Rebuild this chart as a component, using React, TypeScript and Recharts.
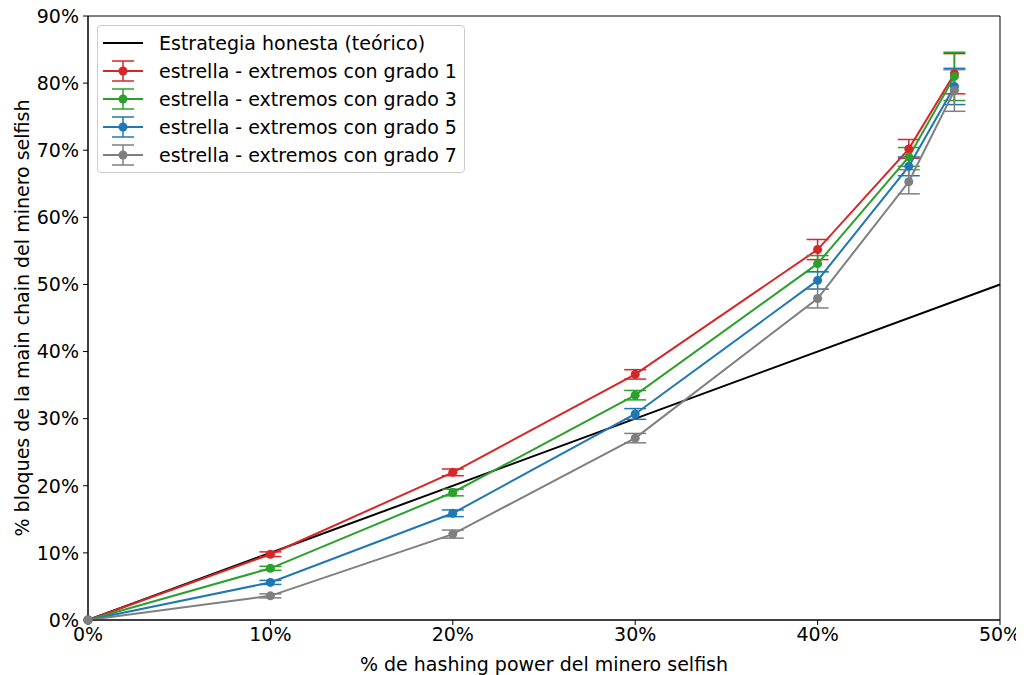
import React from 'react';
import { ComposedChart, Line, XAxis, YAxis, ErrorBar, Legend, ReferenceArea } from 'recharts';

const xValues = [0, 10, 20, 30, 40, 45, 47.5];
const grado1 = [0, 9.8, 22.0, 36.6, 55.2, 70.2, 81.4];
const grado1Err = [0, 0.35, 0.5, 0.7, 1.5, 1.4, 3.0];
const grado3 = [0, 7.7, 19.0, 33.5, 53.1, 69.0, 81.0];
const grado3Err = [0, 0.3, 0.5, 0.7, 1.2, 1.4, 3.6];
const grado5 = [0, 5.6, 15.9, 30.7, 50.6, 67.6, 79.5];
const grado5Err = [0, 0.3, 0.5, 0.8, 1.3, 1.4, 2.7];
const grado7 = [0, 3.6, 12.8, 27.1, 47.9, 65.3, 78.9];
const grado7Err = [0, 0.3, 0.6, 0.7, 1.4, 1.8, 3.1];
const honestX = [0, 50];
const honestY = [0, 50];
const xTicks = [0, 10, 20, 30, 40, 50];
const yTicks = [0, 10, 20, 30, 40, 50, 60, 70, 80, 90];

const seriesNames = [
  'Estrategia honesta (teórico)',
  'estrella - extremos con grado 1',
  'estrella - extremos con grado 3',
  'estrella - extremos con grado 5',
  'estrella - extremos con grado 7',
];
const colors = ['#000000', '#d62728', '#2ca02c', '#1f77b4', '#7f7f7f'];

const rows = xValues.map((x, i) => ({
  x,
  g1: grado1[i], g1e: grado1Err[i],
  g3: grado3[i], g3e: grado3Err[i],
  g5: grado5[i], g5e: grado5Err[i],
  g7: grado7[i], g7e: grado7Err[i],
}));
const honestData = honestX.map((x, i) => ({ x, honest: honestY[i] }));

const FONT = 'DejaVu Sans, sans-serif';
const FS = 19;

const renderLegend = () => (
  <div
    style={{
      display: 'inline-block',
      border: '1px solid #cccccc',
      borderRadius: 4,
      background: 'rgba(255,255,255,0.8)',
      padding: '3px 7px 3px 5px',
      fontFamily: FONT,
      fontSize: FS,
      color: '#000',
      boxSizing: 'border-box',
      textAlign: 'left',
    }}
  >
    {seriesNames.map((name, i) => (
      <div key={name} style={{ display: 'flex', alignItems: 'center', height: 28 }}>
        <svg width={40} height={24} style={{ marginRight: 16, flexShrink: 0 }}>
          <line x1={0} y1={12} x2={40} y2={12} stroke={colors[i]} strokeWidth={2} />
          {i > 0 && (
            <g stroke={colors[i]} strokeWidth={1.5}>
              <line x1={20} y1={2} x2={20} y2={22} />
              <line x1={9} y1={2} x2={31} y2={2} />
              <line x1={9} y1={22} x2={31} y2={22} />
              <circle cx={20} cy={12} r={4.5} fill={colors[i]} stroke="none" />
            </g>
          )}
        </svg>
        <span style={{ whiteSpace: 'nowrap' }}>{name}</span>
      </div>
    ))}
  </div>
);

const keys = ['g1', 'g3', 'g5', 'g7'];

export default function App() {
  return (
    <div style={{ marginTop: -8 }}>
      <ComposedChart
        width={1016}
        height={675}
        data={rows}
        margin={{ top: 16, right: 24, bottom: 0, left: 0 }}
        style={{ fontFamily: FONT }}
      >
        <XAxis
          dataKey="x"
          type="number"
          domain={[0, 50]}
          ticks={xTicks}
          tickFormatter={(v) => `${v}%`}
          height={55}
          tickSize={5}
          tickMargin={3}
          stroke="#000"
          tick={{ fill: '#000', fontSize: FS, fontFamily: FONT }}
          tickLine={{ stroke: '#000' }}
          axisLine={{ stroke: '#000' }}
          interval={0}
          label={{ value: '% de hashing power del minero selfish', position: 'insideBottom', offset: 4, fill: '#000', fontSize: FS, fontFamily: FONT }}
          allowDecimals
        />
        <YAxis
          type="number"
          domain={[0, 90]}
          ticks={yTicks}
          tickFormatter={(v) => `${v}%`}
          width={80}
          tickSize={5}
          tickMargin={4}
          stroke="#000"
          tick={{ fill: '#000', fontSize: FS, fontFamily: FONT }}
          tickLine={{ stroke: '#000' }}
          axisLine={{ stroke: '#000' }}
          interval={0}
          label={{
            value: '% bloques de la main chain del minero selfish',
            angle: -90,
            position: 'insideLeft',
            offset: 14,
            fill: '#000',
            fontSize: FS,
            fontFamily: FONT,
            style: { textAnchor: 'middle' },
          }}
        />
        <ReferenceArea x1={0} x2={50} y1={0} y2={90} fill="none" fillOpacity={0} stroke="#000" strokeWidth={1} />
        <Legend
          content={renderLegend}
          layout="horizontal"
          verticalAlign="middle"
          align="center"
          wrapperStyle={{ top: 25, left: 89, width: 'auto', textAlign: 'left' }}
        />
        <Line
          data={honestData}
          dataKey="honest"
          stroke="#000"
          strokeWidth={2}
          dot={false}
          activeDot={false}
          isAnimationActive={false}
          legendType="none"
        />
        {keys.map((k, i) => (
          <Line
            key={k}
            dataKey={k}
            stroke={colors[i + 1]}
            strokeWidth={2}
            dot={{ r: 4.5, fill: colors[i + 1], stroke: 'none' }}
            activeDot={false}
            isAnimationActive={false}
          >
            <ErrorBar dataKey={`${k}e`} width={11} stroke={colors[i + 1]} strokeWidth={1.5} direction="y" />
          </Line>
        ))}
      </ComposedChart>
    </div>
  );
}
